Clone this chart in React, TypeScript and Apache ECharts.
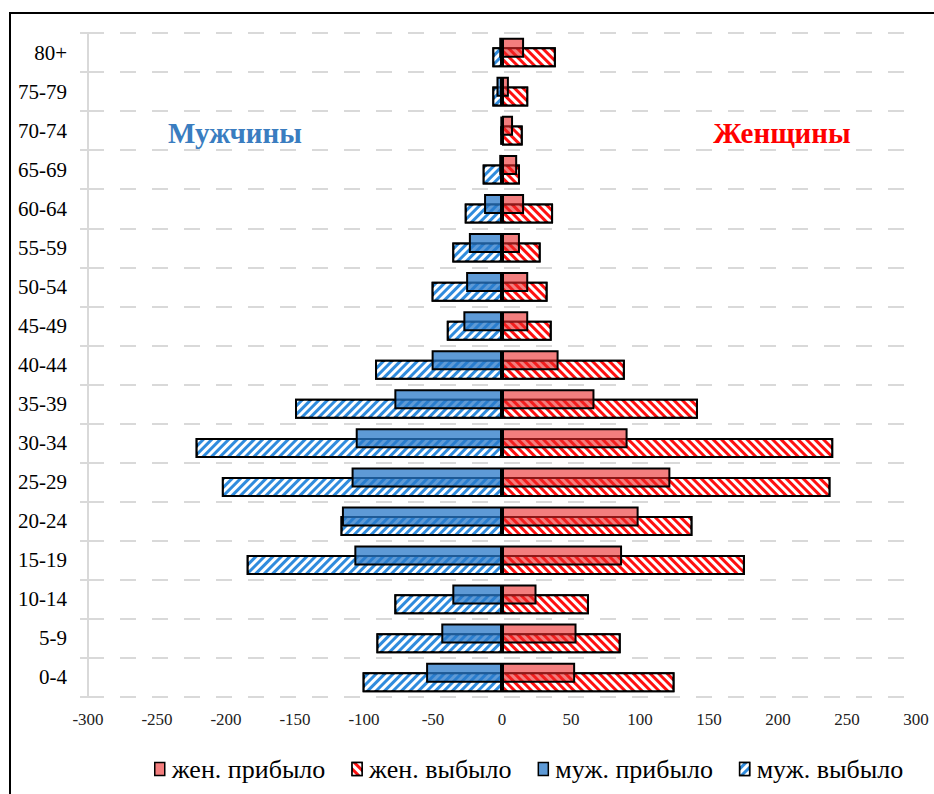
import React, { useEffect, useRef } from "react";
import * as echarts from "echarts";

const categories = ["0-4", "5-9", "10-14", "15-19", "20-24", "25-29", "30-34", "35-39", "40-44", "45-49", "50-54", "55-59", "60-64", "65-69", "70-74", "75-79", "80+"];
const femArrived = [53, 54, 25, 87, 99, 122, 91, 67, 41, 19, 19, 13, 16, 11, 8, 5, 16];
const femDeparted = [125, 86, 63, 176, 138, 238, 240, 142, 89, 36, 33, 28, 37, 13, 15, 19, 39];
const maleArrived = [-55, -44, -36, -107, -116, -109, -106, -78, -51, -28, -26, -24, -13, -2, -1, -4, -2];
const maleDeparted = [-101, -91, -78, -185, -117, -203, -222, -150, -92, -40, -51, -36, -27, -14, -1, -7, -7];
const seriesNames = ["жен. прибыло", "жен. выбыло", "муж. прибыло", "муж. выбыло"];
const titleMale = "Мужчины";
const titleFemale = "Женщины";

const SERIF = "Liberation Serif";

export default function App() {
  const ref = useRef<HTMLDivElement>(null);
  useEffect(() => {
    document.body.style.margin = "0";
    document.body.style.overflow = "hidden";
    const chart = echarts.init(ref.current!, null, { renderer: "svg" });
    const border = { borderColor: "#000", borderWidth: 2 };
    chart.setOption({
      animation: false,
      backgroundColor: "#fff",
      grid: { left: 88, right: 18, top: 33, bottom: 97 },
      xAxis: {
        type: "value",
        min: -300,
        max: 300,
        interval: 50,
        axisLine: { show: false },
        axisTick: { show: false },
        splitLine: { show: false },
        axisLabel: { fontFamily: SERIF, fontSize: 17, color: "#222", margin: 14 },
      },
      yAxis: {
        type: "category",
        data: categories,
        axisLine: { show: true, onZero: false, lineStyle: { color: "#D9D9D9", width: 2 } },
        axisTick: { show: true, length: 8, lineStyle: { color: "#D9D9D9", width: 2 } },
        splitLine: { show: true, lineStyle: { color: "#D9D9D9", width: 2, type: [16, 16] } },
        axisLabel: { fontFamily: SERIF, fontSize: 21, color: "#000", margin: 21 },
      },
      legend: {
        data: seriesNames,
        left: 149,
        top: 751,
        itemGap: 26,
        itemWidth: 10,
        itemHeight: 13,
        icon: "rect",
        itemStyle: { borderColor: "#000", borderWidth: 1.5 },
        textStyle: { fontFamily: SERIF, fontSize: 26, color: "#000", padding: [0, 0, 0, 2] },
      },
      graphic: [
        {
          type: "rect",
          silent: true,
          shape: { x: 10, y: 13, width: 1000, height: 1000 },
          style: { fill: "none", stroke: "#000", lineWidth: 2 },
        },
        {
          type: "text",
          x: 235,
          y: 133,
          style: { text: titleMale, fontFamily: SERIF, fontWeight: "bold", fontSize: 29, fill: "#3A7DC0", align: "center", verticalAlign: "middle" },
        },
        {
          type: "text",
          x: 782,
          y: 133,
          style: { text: titleFemale, fontFamily: SERIF, fontWeight: "bold", fontSize: 29, fill: "#FF0000", align: "center", verticalAlign: "middle" },
        },
      ],
      series: [
        {
          name: seriesNames[0],
          type: "bar",
          stack: "arr",
          data: femArrived,
          barWidth: 20,
          barGap: "-52%",
          z: 3,
          itemStyle: { color: "rgba(235,40,40,0.6)", ...border },
        },
        {
          name: seriesNames[1],
          type: "bar",
          stack: "dep",
          data: femDeparted,
          barWidth: 20,
          barGap: "-52%",
          z: 2,
          itemStyle: {
            color: "#FF1010",
            ...border,
            decal: { symbol: "rect", symbolSize: 1, dashArrayX: [1, 0], dashArrayY: [2.5, 2.5], rotation: Math.PI / 4, color: "#FFFFFF" },
          },
        },
        {
          name: seriesNames[2],
          type: "bar",
          stack: "arr",
          data: maleArrived,
          barWidth: 20,
          barGap: "-52%",
          z: 3,
          itemStyle: { color: "rgba(40,120,200,0.75)", ...border },
        },
        {
          name: seriesNames[3],
          type: "bar",
          stack: "dep",
          data: maleDeparted,
          barWidth: 20,
          barGap: "-52%",
          z: 2,
          itemStyle: {
            color: "#2F8BDD",
            ...border,
            decal: { symbol: "rect", symbolSize: 1, dashArrayX: [1, 0], dashArrayY: [2.5, 2.5], rotation: -Math.PI / 4, color: "#FFFFFF" },
          },
        },
      ],
    });
    return () => chart.dispose();
  }, []);
  return <div ref={ref} style={{ width: 934, height: 794 }} />;
}
